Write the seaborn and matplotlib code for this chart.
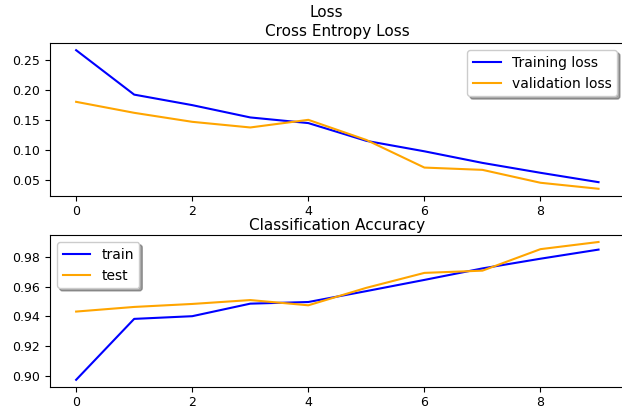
import numpy as np
import pandas as pd
import matplotlib
matplotlib.use("Agg")
import matplotlib.pyplot as plt
import seaborn as sns

"""values read off the reference picture"""
epochs = list(range(10))
train_loss = [0.267, 0.193, 0.1755, 0.155, 0.1456, 0.116, 0.0986, 0.0793, 0.0628, 0.0472]
val_loss = [0.181, 0.1627, 0.1477, 0.1383, 0.151, 0.1175, 0.0715, 0.0677, 0.0462, 0.0362]
train_acc = [0.8976, 0.9384, 0.9402, 0.9486, 0.9497, 0.9570, 0.9645, 0.9722, 0.9787, 0.9848]
test_acc = [0.9433, 0.9464, 0.9484, 0.9510, 0.9475, 0.9592, 0.9692, 0.9707, 0.9851, 0.9899]

"""tick labels"""
loss_ticks = [0.05, 0.10, 0.15, 0.20, 0.25]
acc_ticks = [0.90, 0.92, 0.94, 0.96, 0.98]
epoch_ticks = [0, 2, 4, 6, 8]

loss_df = pd.DataFrame({'epoch': epochs, 'train': train_loss, 'val': val_loss})
acc_df = pd.DataFrame({'epoch': epochs, 'train': train_acc, 'test': test_acc})

plt.rcParams['xtick.labelsize'] = 9
plt.rcParams['ytick.labelsize'] = 9

fig = plt.figure(figsize=(6.22, 4.12), dpi=100)

"""loss plot (right edge runs past the picture, as in the reference crop)"""
ax1 = fig.add_axes([0.0804, 0.525, 0.95, 0.370])
sns.lineplot(data=loss_df, x='epoch', y='train', color='blue', label='Training loss', ax=ax1)
sns.lineplot(data=loss_df, x='epoch', y='val', color='orange', label='validation loss', ax=ax1)
ax1.set_title('Cross Entropy Loss', fontsize=11, pad=5, x=0.486)
ax1.set_xlabel('')
ax1.set_ylabel('')
ax1.set_xlim(-0.45, 9.73)
ax1.set_xticks(epoch_ticks)
ax1.set_yticks(loss_ticks)
ax1.set_yticklabels([f'{t:.2f}' for t in loss_ticks])
ax1.legend(loc='upper right', shadow=True, fontsize=10, bbox_to_anchor=(0.9715, 1.0))

"""accuracy plot"""
ax2 = fig.add_axes([0.0804, 0.0614, 0.95, 0.368])
sns.lineplot(data=acc_df, x='epoch', y='train', color='blue', label='train', ax=ax2)
sns.lineplot(data=acc_df, x='epoch', y='test', color='orange', label='test', ax=ax2)
ax2.set_title('Classification Accuracy', fontsize=11, pad=3.5, x=0.486)
ax2.set_xlabel('')
ax2.set_ylabel('')
ax2.set_xlim(-0.45, 9.73)
ax2.set_xticks(epoch_ticks)
ax2.set_yticks(acc_ticks)
ax2.set_yticklabels([f'{t:.2f}' for t in acc_ticks])
ax2.legend(loc='upper left', shadow=True, fontsize=10)

fig.text(0.524, 1 - 17.3 / 412, 'Loss', ha='center', va='baseline', fontsize=11)

fig.savefig('out.png', dpi=100)
